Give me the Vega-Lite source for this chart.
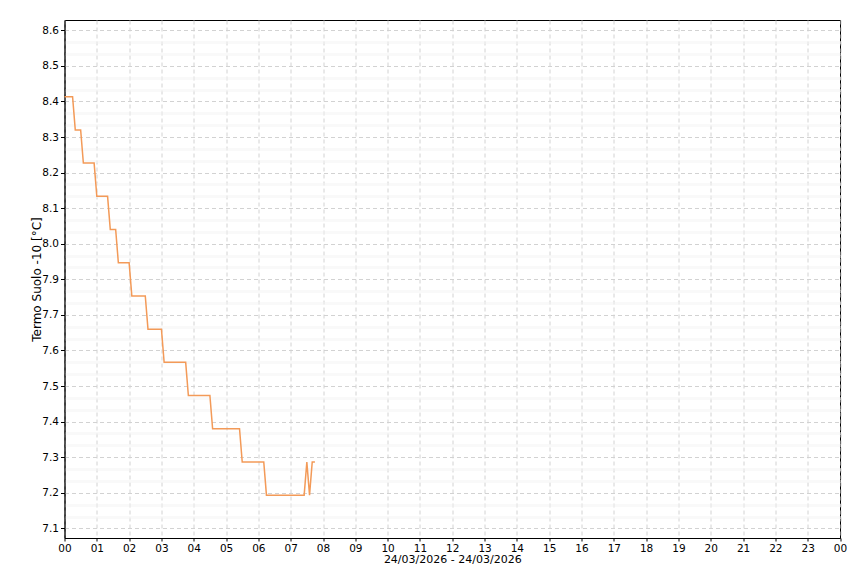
{
  "$schema": "https://vega.github.io/schema/vega-lite/v6.json",
  "width": 775.5,
  "height": 518,
  "autosize": {"type": "none"},
  "padding": {"left": 64.5, "top": 20, "right": 20, "bottom": 35},
  "background": "white",
  "config": {
    "view": {"stroke": "#000000", "strokeWidth": 1},
    "font": "DejaVu Sans",
    "axis": {"labelFont": "DejaVu Sans", "titleFont": "DejaVu Sans", "labelColor": "#000000", "titleColor": "#000000", "titleFontWeight": "normal", "domainColor": "#000000", "tickColor": "#000000"}
  },
  "data": {
    "values": [
      {"ora": "2026-03-24T00:00:00", "temp": 8.4},
      {"ora": "2026-03-24T00:15:00", "temp": 8.4},
      {"ora": "2026-03-24T00:20:00", "temp": 8.3},
      {"ora": "2026-03-24T00:30:00", "temp": 8.3},
      {"ora": "2026-03-24T00:35:00", "temp": 8.2},
      {"ora": "2026-03-24T00:55:00", "temp": 8.2},
      {"ora": "2026-03-24T01:00:00", "temp": 8.1},
      {"ora": "2026-03-24T01:20:00", "temp": 8.1},
      {"ora": "2026-03-24T01:25:00", "temp": 8.0},
      {"ora": "2026-03-24T01:35:00", "temp": 8.0},
      {"ora": "2026-03-24T01:40:00", "temp": 7.9},
      {"ora": "2026-03-24T02:00:00", "temp": 7.9},
      {"ora": "2026-03-24T02:05:00", "temp": 7.8},
      {"ora": "2026-03-24T02:30:00", "temp": 7.8},
      {"ora": "2026-03-24T02:35:00", "temp": 7.7},
      {"ora": "2026-03-24T03:00:00", "temp": 7.7},
      {"ora": "2026-03-24T03:05:00", "temp": 7.6},
      {"ora": "2026-03-24T03:45:00", "temp": 7.6},
      {"ora": "2026-03-24T03:50:00", "temp": 7.5},
      {"ora": "2026-03-24T04:30:00", "temp": 7.5},
      {"ora": "2026-03-24T04:35:00", "temp": 7.4},
      {"ora": "2026-03-24T05:25:00", "temp": 7.4},
      {"ora": "2026-03-24T05:30:00", "temp": 7.3},
      {"ora": "2026-03-24T06:10:00", "temp": 7.3},
      {"ora": "2026-03-24T06:15:00", "temp": 7.2},
      {"ora": "2026-03-24T07:25:00", "temp": 7.2},
      {"ora": "2026-03-24T07:30:00", "temp": 7.3},
      {"ora": "2026-03-24T07:35:00", "temp": 7.2},
      {"ora": "2026-03-24T07:40:00", "temp": 7.3},
      {"ora": "2026-03-24T07:45:00", "temp": 7.3}
    ]
  },
  "layer": [
    {
      "mark": {"type": "line", "strokeOpacity": 0},
      "encoding": {
        "x": {"field": "ora", "type": "temporal",
              "scale": {"domain": [{"year": 2026, "month": 3, "date": 24, "hours": 0}, {"year": 2026, "month": 3, "date": 25, "hours": 0}], "nice": false}},
        "y": {"field": "temp", "type": "quantitative",
              "scale": {"domain": [7.071, 8.631], "nice": false, "zero": false},
              "axis": {"orient": "right", "labels": false, "ticks": false, "domain": false, "title": null, "grid": true,
                       "gridColor": "#f2f2f2", "gridWidth": 3, "gridDash": [1, 1], "tickCount": 40,
                       "values": [7.135714, 7.171429, 7.242857, 7.278571, 7.35, 7.385714, 7.457143, 7.492857, 7.564286, 7.6, 7.671429, 7.707143, 7.778571, 7.814286, 7.885714, 7.921429, 7.992857, 8.028571, 8.1, 8.135714, 8.207143, 8.242857, 8.314286, 8.35, 8.421429, 8.457143, 8.528571, 8.564286]}}
      }
    },
    {
      "mark": {"type": "line", "color": "#f39a58", "strokeWidth": 1.5},
      "encoding": {
        "x": {"field": "ora", "type": "temporal",
              "scale": {"domain": [{"year": 2026, "month": 3, "date": 24, "hours": 0}, {"year": 2026, "month": 3, "date": 25, "hours": 0}], "nice": false},
              "axis": {"title": "24/03/2026 - 24/03/2026", "titleFontSize": 11, "titlePadding": 0,
                       "format": "%H", "tickCount": 30,
                       "values": [
                         {"year": 2026, "month": 3, "date": 24, "hours": 0},
                         {"year": 2026, "month": 3, "date": 24, "hours": 1},
                         {"year": 2026, "month": 3, "date": 24, "hours": 2},
                         {"year": 2026, "month": 3, "date": 24, "hours": 3},
                         {"year": 2026, "month": 3, "date": 24, "hours": 4},
                         {"year": 2026, "month": 3, "date": 24, "hours": 5},
                         {"year": 2026, "month": 3, "date": 24, "hours": 6},
                         {"year": 2026, "month": 3, "date": 24, "hours": 7},
                         {"year": 2026, "month": 3, "date": 24, "hours": 8},
                         {"year": 2026, "month": 3, "date": 24, "hours": 9},
                         {"year": 2026, "month": 3, "date": 24, "hours": 10},
                         {"year": 2026, "month": 3, "date": 24, "hours": 11},
                         {"year": 2026, "month": 3, "date": 24, "hours": 12},
                         {"year": 2026, "month": 3, "date": 24, "hours": 13},
                         {"year": 2026, "month": 3, "date": 24, "hours": 14},
                         {"year": 2026, "month": 3, "date": 24, "hours": 15},
                         {"year": 2026, "month": 3, "date": 24, "hours": 16},
                         {"year": 2026, "month": 3, "date": 24, "hours": 17},
                         {"year": 2026, "month": 3, "date": 24, "hours": 18},
                         {"year": 2026, "month": 3, "date": 24, "hours": 19},
                         {"year": 2026, "month": 3, "date": 24, "hours": 20},
                         {"year": 2026, "month": 3, "date": 24, "hours": 21},
                         {"year": 2026, "month": 3, "date": 24, "hours": 22},
                         {"year": 2026, "month": 3, "date": 24, "hours": 23},
                         {"year": 2026, "month": 3, "date": 25, "hours": 0}
                       ],
                       "labelFontSize": 10.5, "labelPadding": 2, "tickSize": 3, "labelOverlap": false, "labelFlush": false,
                       "grid": true, "gridColor": "#d2d2d2", "gridDash": [4, 3], "gridWidth": 1}},
        "y": {"field": "temp", "type": "quantitative",
              "scale": {"domain": [7.071, 8.631], "nice": false, "zero": false},
              "axis": {"title": "Termo Suolo -10 [°C]", "titleFontSize": 12, "titleX": -28, "titleBaseline": "middle",
                       "format": ".1f", "labelFontSize": 10.5, "labelPadding": 2, "tickSize": 4, "tickCount": 20,
                       "values": [7.1, 7.207143, 7.314286, 7.421429, 7.528571, 7.635714, 7.742857, 7.8501, 7.957143, 8.064286, 8.171429, 8.278571, 8.385714, 8.492857, 8.6],
                       "grid": true, "gridColor": "#d2d2d2", "gridDash": [4, 3], "gridWidth": 1}}
      }
    }
  ],
  "resolve": {"axis": {"y": "independent"}}
}
